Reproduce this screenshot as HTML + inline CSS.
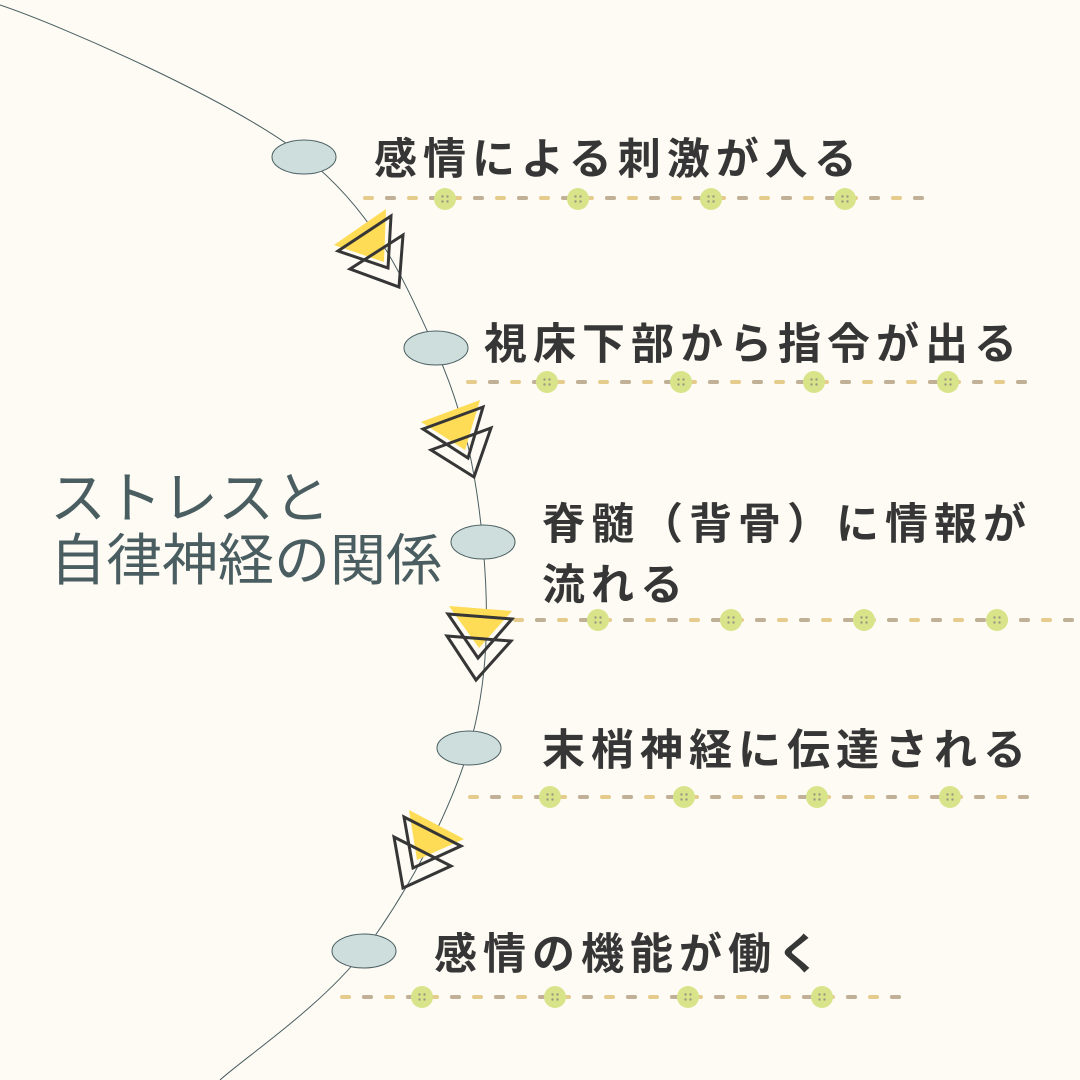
<!DOCTYPE html>
<html><head><meta charset="utf-8"><style>
html,body{margin:0;padding:0;background:#fdfbf3;}
.wrap{position:relative;width:1080px;height:1080px;overflow:hidden;background:#fdfbf3;font-family:"Liberation Sans","Noto Sans CJK JP",sans-serif;}
.t{position:absolute;font-weight:bold;color:#363636;font-size:43px;letter-spacing:6px;white-space:nowrap;line-height:1;}
.title{position:absolute;left:50px;top:468px;color:#4a5e62;font-size:56px;line-height:62px;white-space:nowrap;letter-spacing:0px;}
svg{position:absolute;left:0;top:0;}
</style></head><body><div class="wrap">
<svg width="1080" height="1080" viewBox="0 0 1080 1080">
<defs>
<g id="btn"><circle r="11" fill="#d8e48a"/><circle cx="-2.5" cy="-2.5" r="1.2" fill="#9a9a80"/><circle cx="2.5" cy="-2.5" r="1.2" fill="#9a9a80"/><circle cx="-2.5" cy="2.5" r="1.2" fill="#9a9a80"/><circle cx="2.5" cy="2.5" r="1.2" fill="#9a9a80"/></g>
</defs>
<path d="M0,5 C60,25 232,100 305,157 C377,214 405,283 435,348 C465,413 477,478 483,545 C489,612 489,680 469,748 C449,816 405,896 364,951 C322,1006 244,1058 220,1080" fill="none" stroke="#4a5e62" stroke-width="1"/>
<g fill="#cddedd" stroke="#4a5e62" stroke-width="1">
<ellipse cx="304" cy="157" rx="32" ry="17"/>
<ellipse cx="436" cy="348" rx="32" ry="17"/>
<ellipse cx="483" cy="542" rx="32" ry="17"/>
<ellipse cx="469" cy="748" rx="32" ry="17"/>
<ellipse cx="364" cy="951" rx="32" ry="17"/>
</g>
<g stroke-width="4" stroke-linecap="round">
<g><line x1="365" y1="198" x2="925" y2="198" stroke="#e6cc8c" stroke-dasharray="7,15"/><line x1="387" y1="198" x2="925" y2="198" stroke="#c0b098" stroke-dasharray="7,37"/></g>
<g><line x1="468" y1="382" x2="1028" y2="382" stroke="#e6cc8c" stroke-dasharray="7,15"/><line x1="490" y1="382" x2="1028" y2="382" stroke="#c0b098" stroke-dasharray="7,37"/></g>
<g><line x1="515" y1="620" x2="1080" y2="620" stroke="#e6cc8c" stroke-dasharray="7,15"/><line x1="537" y1="620" x2="1080" y2="620" stroke="#c0b098" stroke-dasharray="7,37"/></g>
<g><line x1="470" y1="797" x2="1030" y2="797" stroke="#e6cc8c" stroke-dasharray="7,15"/><line x1="492" y1="797" x2="1030" y2="797" stroke="#c0b098" stroke-dasharray="7,37"/></g>
<g><line x1="342" y1="997" x2="905" y2="997" stroke="#e6cc8c" stroke-dasharray="7,15"/><line x1="364" y1="997" x2="905" y2="997" stroke="#c0b098" stroke-dasharray="7,37"/></g>
</g>
<use href="#btn" x="445" y="199"/><use href="#btn" x="578" y="199"/><use href="#btn" x="711" y="199"/><use href="#btn" x="845" y="199"/>
<use href="#btn" x="547" y="382"/><use href="#btn" x="681" y="382"/><use href="#btn" x="814" y="382"/><use href="#btn" x="948" y="382"/>
<use href="#btn" x="598" y="620"/><use href="#btn" x="731" y="620"/><use href="#btn" x="864" y="620"/><use href="#btn" x="997" y="620"/>
<use href="#btn" x="550" y="797"/><use href="#btn" x="684" y="797"/><use href="#btn" x="817" y="797"/><use href="#btn" x="950" y="797"/>
<use href="#btn" x="422" y="997"/><use href="#btn" x="555" y="997"/><use href="#btn" x="688" y="997"/><use href="#btn" x="822" y="997"/>
<g fill="#fedc56">
<polygon points="334,245 386,209 384,262"/>
<polygon points="421,422 480,400 465,450"/>
<polygon points="449,606 512,611 479,648"/>
<polygon points="409,810 464,839 417,860"/>
</g>
<g fill="none" stroke="#363636" stroke-width="3" stroke-linejoin="miter">
<polygon points="338,251 391,216 388,268"/><polygon points="350,269 403,235 399,287"/>
<polygon points="423,429 483,407 468,458"/><polygon points="431,450 491,428 474,477"/>
<polygon points="448,614 512,619 478,658"/><polygon points="447,636 511,641 476,680"/>
<polygon points="404,817 461,846 413,868"/><polygon points="394,837 451,866 403,888"/>
</g>
</svg>
<div class="t" style="left:374px;top:139px;">感情による刺激が入る</div>
<div class="t" style="left:484px;top:324px;">視床下部から指令が出る</div>
<div class="t" style="left:542px;top:504px;">脊髄（背骨）に情報が</div>
<div class="t" style="left:542px;top:565px;">流れる</div>
<div class="t" style="left:542px;top:730px;">末梢神経に伝達される</div>
<div class="t" style="left:434px;top:934px;">感情の機能が働く</div>
<div class="title">ストレスと<br>自律神経の関係</div>
</div></body></html>
